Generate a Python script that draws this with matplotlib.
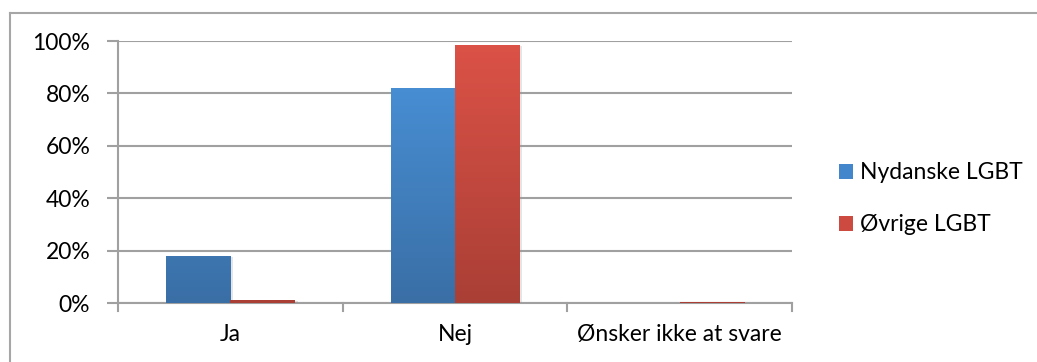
import matplotlib.pyplot as plt
import numpy as np
from matplotlib.patches import Patch
from matplotlib.lines import Line2D
import matplotlib.patheffects as pe

plt.rcParams['font.family'] = ['Lato', 'DejaVu Sans']

categories = ['Ja', 'Nej', 'Ønsker ikke at svare']
series_names = ['Nydanske LGBT', 'Øvrige LGBT']
nydanske = [17.9, 82.0, 0.0]
ovrige = [1.2, 98.5, 0.5]
yticks = [0, 20, 40, 60, 80, 100]

# top / bottom colours of the gradient fills
blue_top, blue_bot = '#4a94dc', '#3a6fa6'
red_top, red_bot = '#dc5247', '#aa3f36'

fig = plt.figure(figsize=(10.37, 3.62), dpi=100)
ax = fig.add_axes([118/1037, 59/362, 674/1037, 262/362])

x = np.arange(len(categories))
w = 0.287

def grad_bars(xs, vals, top, bot):
    bars = ax.bar(xs, vals, w, color=top, zorder=3, linewidth=0,
                  path_effects=[pe.SimplePatchShadow(offset=(2, -1), shadow_rgbFace='#999999', alpha=0.25), pe.Normal()])
    c1 = np.array(plt.matplotlib.colors.to_rgb(top))
    c2 = np.array(plt.matplotlib.colors.to_rgb(bot))
    t = np.linspace(0, 1, 64)[:, None]
    img = (c1 * (1 - t) + c2 * t)[:, None, :]
    for b in bars:
        if b.get_height() <= 0:
            continue
        x0, y0 = b.get_x(), b.get_y()
        im = ax.imshow(img, extent=[x0, x0 + b.get_width(), y0, y0 + 100],
                       origin='upper', aspect='auto', zorder=3.5, interpolation='bilinear')
        im.set_clip_path(b)
    return bars

grad_bars(x - w/2, nydanske, blue_top, blue_bot)
grad_bars(x + w/2, ovrige, red_top, red_bot)

ax.set_xlim(-0.5, 2.5)
ax.set_ylim(0, 100)
ax.set_yticks(yticks)
ax.set_yticklabels([f'{v}%' for v in yticks], fontsize=16.5)
ax.set_xticks(x)
ax.set_xticklabels(categories, fontsize=16.5)
ax.tick_params(axis='x', length=0, pad=15)
ax.tick_params(axis='y', length=8, width=1.5, color='#a0a0a0', pad=12)
ax.grid(axis='y', color='#a0a0a0', linewidth=1.5, zorder=1)
for s in ['top', 'right']:
    ax.spines[s].set_visible(False)
ax.spines['left'].set_color('#a0a0a0')
ax.spines['left'].set_linewidth(1.5)
ax.spines['bottom'].set_color('#a0a0a0')
ax.spines['bottom'].set_linewidth(1.5)
ax.spines['left'].set_bounds(0, 100)

# category separator ticks below the x axis
for b in np.arange(-0.5, 3.0, 1.0):
    ax.plot([b, b], [0, -3.2], color='#a0a0a0', linewidth=1.5, clip_on=False, zorder=2)

handles = [Patch(facecolor='#4386cc', edgecolor='none'),
           Patch(facecolor='#cc4a40', edgecolor='none')]
fig.legend(handles, series_names, loc='upper left', bbox_to_anchor=(828/1037, 1 - 151/362),
           frameon=False, fontsize=16.5, handlelength=0.6, handleheight=0.6,
           handletextpad=0.3, labelspacing=1.35, borderpad=0)

# outer chart border (cut off at right and bottom)
fig.add_artist(Line2D([10/1037, 1], [1 - 13/362, 1 - 13/362], color='#a6a6a6', linewidth=1.5))
fig.add_artist(Line2D([10/1037, 10/1037], [0, 1 - 13/362], color='#a6a6a6', linewidth=1.5))

fig.savefig('out.png', dpi=100)
